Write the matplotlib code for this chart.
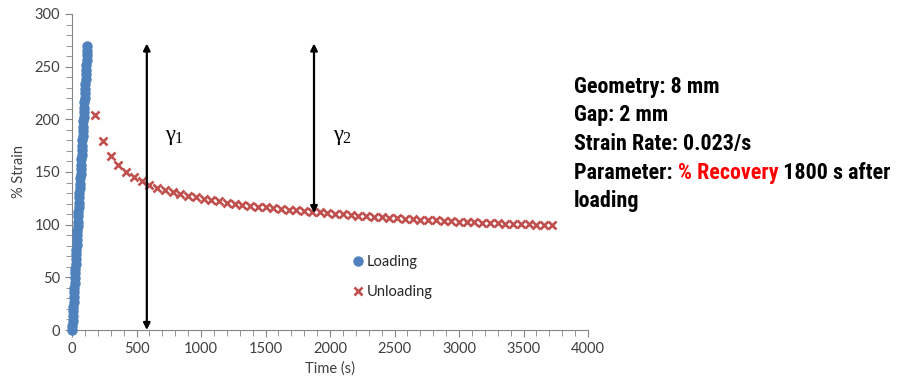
import matplotlib
matplotlib.use("Agg")
import matplotlib.pyplot as plt
from matplotlib.ticker import MultipleLocator

# loading ramp (time in s, % strain)
load_t = [0, 2, 4, 6, 8, 10, 12, 14, 16, 18, 20, 22, 24, 26, 28, 30, 32, 34, 36, 38, 40,
          42, 44, 46, 48, 50, 52, 54, 56, 58, 60, 62, 64, 66, 68, 70, 72, 74, 76, 78, 80,
          82, 84, 86, 88, 90, 92, 94, 96, 98, 100, 102, 104, 106, 108, 110, 112, 114, 116,
          118, 120]
load_strain = [0, 4, 9, 13, 18, 22, 27, 31, 36, 40, 45, 49, 54, 58, 63, 67, 72, 76, 81,
               85, 90, 94, 99, 103, 108, 112, 117, 121, 126, 130, 135, 139, 144, 148, 153,
               157, 162, 166, 171, 175, 180, 184, 189, 193, 198, 202, 207, 211, 216, 220,
               225, 229, 234, 238, 243, 247, 252, 256, 261, 265, 270]

# recovery after the load is removed
unload_t = [180, 240, 300, 360, 420, 480, 540, 600, 660, 720, 780, 840, 900, 960, 1020,
            1080, 1140, 1200, 1260, 1320, 1380, 1440, 1500, 1560, 1620, 1680, 1740, 1800,
            1860, 1920, 1980, 2040, 2100, 2160, 2220, 2280, 2340, 2400, 2460, 2520, 2580,
            2640, 2700, 2760, 2820, 2880, 2940, 3000, 3060, 3120, 3180, 3240, 3300, 3360,
            3420, 3480, 3540, 3600, 3660, 3720]
unload_strain = [204, 179, 165, 157, 150, 145, 141, 138, 135, 133, 131, 129, 127.5, 126,
                 124.5, 123, 122, 121, 120, 119, 118, 117, 116.3, 115.6, 114.9, 114.2,
                 113.5, 112.8, 112.2, 111.6, 111, 110.4, 109.8, 109.2, 108.7, 108.2, 107.7,
                 107.2, 106.7, 106.2, 105.7, 105.2, 104.8, 104.4, 104, 103.6, 103.2, 102.8,
                 102.5, 102.2, 101.9, 101.6, 101.3, 101, 100.7, 100.5, 100.3, 100.1, 99.9,
                 99.7]

# gamma markers: (time, bottom, top)
g1 = (580, 0, 272)
g2 = (1876, 111, 272)

info_lines = ["Geometry: 8 mm", "Gap: 2 mm", "Strain Rate: 0.023/s"]

fig = plt.figure(figsize=(9.05, 3.92), dpi=100)
ax = fig.add_axes([72 / 905, 1 - 330 / 392, (588 - 72) / 905, (330 - 14) / 392])

ax.plot(load_t, load_strain, 'o', color='#4F81BD', ms=6.5, mec='#4F81BD', label='Loading',
        clip_on=False, zorder=3)
ax.plot(unload_t, unload_strain, 'x', color='#C0504D', ms=5.5, mew=1.9, label='Unloading',
        zorder=3)

for t, lo, hi in (g1, g2):
    ax.annotate('', xy=(t, lo), xytext=(t, hi),
                arrowprops=dict(arrowstyle='<|-|>', color='black', lw=1.6,
                                mutation_scale=10, shrinkA=0, shrinkB=0))

# gamma labels, upright serif with a small subscript
serif = ['Liberation Serif', 'DejaVu Serif']
for x0, sub in ((720, '1'), (2020, '2')):
    ax.text(x0, 185, 'γ', family=serif, fontsize=16, va='center', ha='left')
    ax.text(x0 + 78, 181, sub, family=serif, fontsize=11.5, va='center', ha='left')

ax.set_xlim(0, 4000)
ax.set_ylim(0, 300)
ax.xaxis.set_major_locator(MultipleLocator(500))
ax.xaxis.set_minor_locator(MultipleLocator(100))
ax.yaxis.set_major_locator(MultipleLocator(50))
ax.yaxis.set_minor_locator(MultipleLocator(10))

for s in ('top', 'right'):
    ax.spines[s].set_visible(False)
for s in ('left', 'bottom'):
    ax.spines[s].set_color('#868686')
ax.tick_params(which='both', direction='out', color='#868686', labelcolor='#404040',
               labelsize=10.5)
ax.tick_params(which='major', length=5)
ax.tick_params(which='minor', length=4)
for lab in ax.get_xticklabels() + ax.get_yticklabels():
    lab.set_fontfamily('Lato')

ax.set_xlabel('Time (s)', fontsize=10.5, family='Lato', color='#404040', labelpad=4)
ax.set_ylabel('% Strain', fontsize=10.5, family='Lato', color='#404040', labelpad=6)

leg = ax.legend(loc='upper left', bbox_to_anchor=(348 / 905, 1 - 249 / 392),
                bbox_transform=fig.transFigure, frameon=False, handlelength=0.6,
                handletextpad=0.3, labelspacing=1.1, borderaxespad=0,
                prop={'family': 'Lato', 'size': 10.5})
for txt in leg.get_texts():
    txt.set_color('#262626')

# parameter block on the right
fkw = dict(family=['Roboto Condensed', 'Oswald', 'Liberation Sans Narrow', 'DejaVu Sans'],
           weight='heavy', fontsize=15.8, va='center')
ys = [87, 115, 144, 173, 201]
for line, y in zip(info_lines, ys):
    fig.text(574 / 905, 1 - y / 392, line, **fkw)

fig.canvas.draw()
r = fig.canvas.get_renderer()
x = 574
for part, col in (("Parameter: ", 'black'), ("% Recovery", '#FF0000'), (" 1800 s after", 'black')):
    t = fig.text(x / 905, 1 - ys[3] / 392, part, color=col, **fkw)
    x += t.get_window_extent(r).width
fig.text(574 / 905, 1 - ys[4] / 392, "loading", **fkw)

fig.savefig('out.png', dpi=100)
